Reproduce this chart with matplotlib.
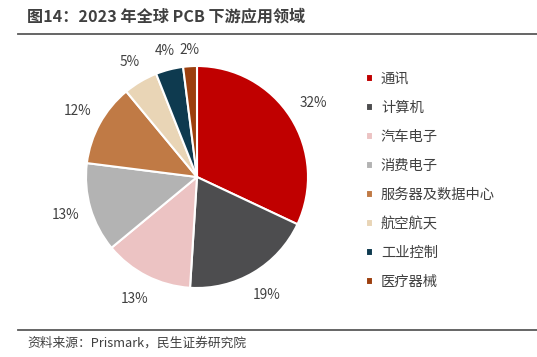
import matplotlib.pyplot as plt
import numpy as np
from matplotlib.lines import Line2D

plt.rcParams['font.family'] = ['Noto Sans CJK SC', 'DejaVu Sans']

categories = ['通讯', '计算机', '汽车电子', '消费电子', '服务器及数据中心', '航空航天', '工业控制', '医疗器械']
shares = [32, 19, 13, 13, 12, 5, 4, 2]
colors = ['#C00000', '#4D4D4F', '#ECC3C3', '#B3B3B3', '#C07A45', '#E9D5B6', '#0E3A4F', '#9C3F0E']

title = '图14：2023 年全球 PCB 下游应用领域'
source = '资料来源：Prismark，民生证券研究院'

W, H = 537, 357
fig = plt.figure(figsize=(W / 100, H / 100), dpi=100)

# pie axes: centre ~(197,177) px, radius ~111 px
r = 111
cx, cy = 197, 177
ax = fig.add_axes([(cx - r) / W, 1 - (cy + r) / H, 2 * r / W, 2 * r / H])
wedges, _ = ax.pie(
    shares, colors=colors, startangle=90, counterclock=False,
    wedgeprops=dict(edgecolor='white', linewidth=1.5),
)
# percentage labels outside, small slices sit a bit closer (as excel does)
dist = [1.24, 1.24, 1.23, 1.23, 1.23, 1.2, 1.17, 1.15]
for w, v, d in zip(wedges, shares, dist):
    ang = np.deg2rad((w.theta1 + w.theta2) / 2)
    ax.text(d * np.cos(ang), d * np.sin(ang), f'{v}%', ha='center', va='center',
            color='#404040', fontsize=9.8)
ax.set_xlim(-1, 1)
ax.set_ylim(-1, 1)
ax.set_aspect('equal')

fig.legend(wedges, categories, loc='upper left', bbox_to_anchor=(353 / W, 1 - 59 / H),
           frameon=False, fontsize=10.3, handlelength=0.5, handleheight=0.5,
           handletextpad=0.55, labelspacing=1.05, labelcolor='#404040')

# title and rules
fig.text(27 / W, 1 - 16 / H, title, fontsize=11.6, fontweight='bold', color='#404040', va='center')
fig.add_artist(Line2D([18 / W, 1], [1 - 34 / H] * 2, color='#595959', linewidth=1.3))
fig.add_artist(Line2D([18 / W, 1], [1 - 330 / H] * 2, color='#595959', linewidth=1.3))
fig.text(27 / W, 1 - 343 / H, source, fontsize=9.2, color='#404040', va='center')

fig.savefig('out.png', dpi=100)
